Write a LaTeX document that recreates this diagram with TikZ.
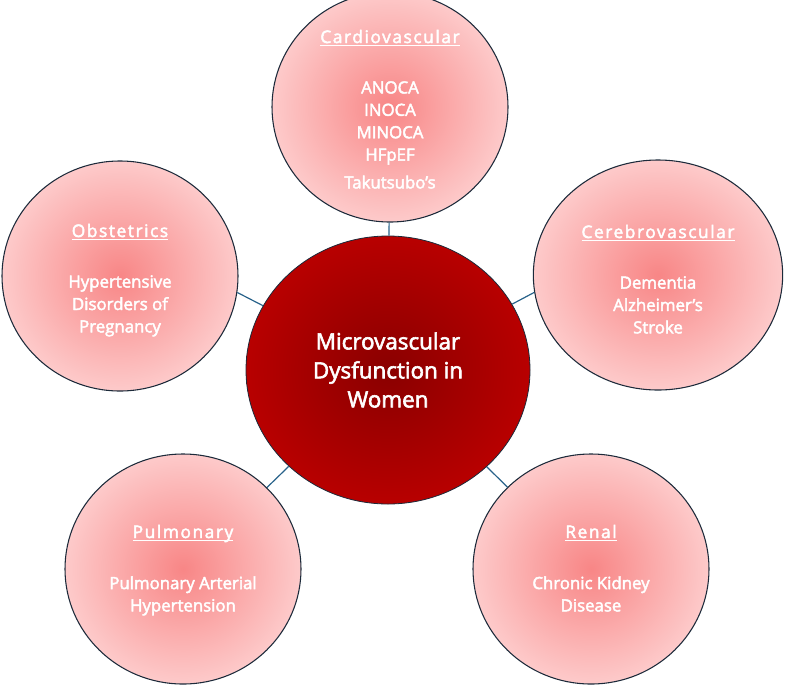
\documentclass[tikz,border=0pt]{standalone}
\usepackage{fontspec}
\setmainfont{Open Sans}[FakeBold=2.6]
\newfontfamily\titlefont{Open Sans}[LetterSpace=9, FakeBold=2.6]
\usepackage{tikz}
\usetikzlibrary{positioning,shapes.geometric}
\definecolor{cPink}{RGB}{248,134,134}
\definecolor{cPinkLight}{RGB}{253,202,202}
\definecolor{cWine}{RGB}{138,0,0}
\definecolor{cCrimson}{RGB}{184,0,0}
\definecolor{cNavy}{RGB}{28,42,58}
\definecolor{cSteel}{RGB}{40,98,138}
\newcommand\ulined[1]{\setbox0\hbox{#1}\rlap{\copy0}\rule[-2.6pt]{\wd0}{0.9pt}}

\begin{document}
\begin{tikzpicture}[
  x=0.75pt, y=-0.75pt,
  area/.style={ellipse, draw=cNavy, line width=0.8pt, inner color=cPink, outer color=cPinkLight,
    minimum width=177pt, minimum height=172.5pt, inner sep=0pt},
  hub/.style={ellipse, draw=cNavy, line width=0.6pt, inner color=cWine, outer color=cCrimson,
    minimum width=213pt, minimum height=201pt, inner sep=0pt, text=white, align=center,
    font=\fontsize{16.8}{21.75}\selectfont},
  head/.style={anchor=base, text=white, inner sep=0pt, font=\titlefont\fontsize{13}{16}\selectfont},
  items/.style={anchor=north, text=white, inner sep=0pt, align=center, font=\fontsize{12.6}{16.8}\selectfont},
  link/.style={draw=cSteel, line width=0.9pt},
]
  \useasboundingbox (0,0) rectangle (785,686);

  \node[hub] (hub) at (388,370) {Microvascular\\Dysfunction in\\Women};
  \node[area] (cardio) at (390,107) {};
  \node[area] (obst) at (120,276) {};
  \node[area, minimum width=187pt] (cereb) at (658,275) {};
  \node[area] (pulm) at (183,569) {};
  \node[area] (renal) at (591,569) {};

  % connectors
  \draw[link] (hub) -- (cardio);
  \draw[link] (hub) -- (obst.-8);
  \draw[link] (hub) -- (cereb.188);
  \draw[link] (hub) -- (pulm);
  \draw[link] (hub) -- (renal);

  % titles and lists
  \node[head] (cardiot) at ([yshift=48pt]cardio.center) {\ulined{Cardiovascular}};
  \node[items] (cardiol) at ([yshift=-28.5pt]cardiot.base) {ANOCA\\INOCA\\MINOCA\\HFpEF\\[4pt]Takutsubo’s};

  \node[head] (obstt) at ([yshift=29.25pt]obst.center) {\ulined{Obstetrics}};
  \node[items] (obstl) at ([yshift=-28.5pt]obstt.base) {Hypertensive\\Disorders of\\Pregnancy};

  \node[head] (cerebt) at ([yshift=27.75pt]cereb.center) {\ulined{Cerebrovascular}};
  \node[items] (cerebl) at ([yshift=-28.5pt]cerebt.base) {Dementia\\Alzheimer’s\\Stroke};

  \node[head] (pulmt) at ([yshift=23.25pt]pulm.center) {\ulined{Pulmonary}};
  \node[items] (pulml) at ([yshift=-28.5pt]pulmt.base) {Pulmonary Arterial\\Hypertension};

  \node[head] (renalt) at ([yshift=23.25pt]renal.center) {\ulined{Renal}};
  \node[items] (renall) at ([yshift=-28.5pt]renalt.base) {Chronic Kidney\\Disease};
\end{tikzpicture}
\end{document}
